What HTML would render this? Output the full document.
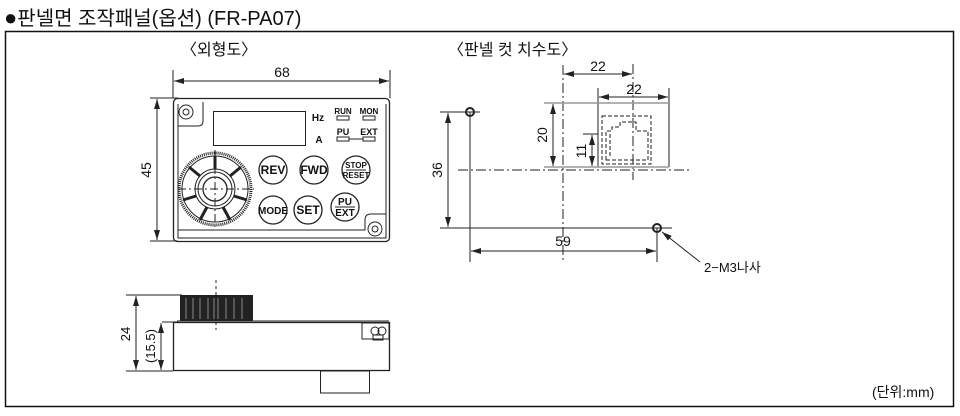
<!DOCTYPE html>
<html><head><meta charset="utf-8"><style>
html,body{margin:0;padding:0;background:#fff;}
svg{display:block;}
text{font-family:"Liberation Sans","Noto Sans CJK KR",sans-serif;fill:#111;}
</style></head><body>
<svg width="960" height="416" viewBox="0 0 960 416" xmlns="http://www.w3.org/2000/svg">
<defs>
<marker id="a" viewBox="0 0 10 6" refX="10" refY="3" markerWidth="10" markerHeight="6" orient="auto-start-reverse" markerUnits="userSpaceOnUse"><path d="M0,0L10,3L0,6z" fill="#222"/></marker>
</defs>
<text x="4" y="25" font-size="20"><tspan font-size="22">●</tspan>판넬면 조작패널(옵션) (FR-PA07)</text>
<rect x="5.5" y="31.5" width="948" height="375" fill="none" stroke="#111" stroke-width="1.5"/>
<text x="181" y="55" font-size="16">〈외형도〉</text>
<text x="448" y="55" font-size="16">〈판넬 컷 치수도〉</text>

<g stroke="#222" fill="none" stroke-width="1">
<line x1="173" y1="70" x2="173" y2="98"/><line x1="390" y1="70" x2="390" y2="98"/>
<line x1="174" y1="81" x2="389" y2="81" marker-start="url(#a)" marker-end="url(#a)"/>
<line x1="150" y1="98" x2="178" y2="98"/><line x1="150" y1="241" x2="178" y2="241"/>
<line x1="157" y1="99" x2="157" y2="240" marker-start="url(#a)" marker-end="url(#a)"/>
<rect x="173.5" y="98.5" width="216" height="143" rx="4" stroke-width="1.3"/>
<path d="M178,126 L198,126 Q203,126 203,121 L203,102 M178,230 L365,230 L365,220 Q365,214 371,214 L386,214 M386,104 L386,238 L178,238 L178,104" stroke-width="1"/>
<circle cx="186" cy="112" r="7"/><circle cx="186" cy="112" r="3"/>
<circle cx="375" cy="229" r="7"/><circle cx="375" cy="229" r="3"/>
<rect x="213.5" y="111.5" width="92" height="34"/>
<circle cx="215" cy="189" r="36" stroke-width="3" stroke-dasharray="1 1"/>
<circle cx="215" cy="189" r="33"/>
<circle cx="215" cy="189" r="20"/><circle cx="215" cy="189" r="17"/>
<circle cx="215" cy="189" r="12" stroke-width="1.3"/>
<g stroke-width="3">
<line x1="215" y1="169" x2="215" y2="156"/>
<line x1="230" y1="176" x2="241" y2="167"/><line x1="200" y1="176" x2="189" y2="167"/>
<line x1="234" y1="196" x2="247" y2="200"/><line x1="196" y1="196" x2="183" y2="200"/>
<line x1="223" y1="207" x2="230" y2="220"/><line x1="207" y1="207" x2="200" y2="220"/>
</g>
<line x1="178" y1="189" x2="254" y2="189" stroke-dasharray="8 3 2 3"/>
<line x1="215" y1="150" x2="215" y2="228" stroke-dasharray="8 3 2 3"/>
<circle cx="273" cy="170" r="14" stroke-width="1.3"/><circle cx="314" cy="170" r="14" stroke-width="1.3"/><circle cx="356" cy="170" r="14" stroke-width="1.3"/>
<circle cx="273" cy="210" r="14" stroke-width="1.3"/><circle cx="308" cy="210" r="14" stroke-width="1.3"/><circle cx="345" cy="207" r="14" stroke-width="1.3"/>
<line x1="346" y1="170" x2="366" y2="170"/><line x1="335" y1="207" x2="355" y2="207"/>
<rect x="337" y="116" width="12" height="4"/><rect x="363" y="116" width="12" height="4"/>
<rect x="337" y="137" width="12" height="4"/><rect x="363" y="137" width="12" height="4"/>
<line x1="349" y1="139" x2="363" y2="139"/>
</g>
<g font-weight="bold" text-anchor="middle" font-size="12">
<text x="318" y="121" font-size="10">Hz</text><text x="319" y="143" font-size="10">A</text>
<text x="343" y="114" font-size="8">RUN</text><text x="369" y="114" font-size="8">MON</text>
<text x="343" y="135" font-size="9">PU</text><text x="369" y="135" font-size="9">EXT</text>
<text x="273" y="174">REV</text><text x="314" y="174">FWD</text>
<text x="356" y="168" font-size="8">STOP</text><text x="356" y="178" font-size="8">RESET</text>
<text x="273" y="214" font-size="10">MODE</text><text x="308" y="214">SET</text>
<text x="345" y="205" font-size="10">PU</text><text x="345" y="216" font-size="10">EXT</text>
</g>
<text x="282" y="77" font-size="14" text-anchor="middle">68</text>
<text x="0" y="0" font-size="14" text-anchor="middle" transform="translate(151,170) rotate(-90)">45</text>

<g stroke="#222" fill="none" stroke-width="1">
<line x1="126" y1="295" x2="182" y2="295"/><line x1="126" y1="371" x2="173" y2="371"/>
<line x1="162" y1="322" x2="178" y2="322"/>
<line x1="136" y1="296" x2="136" y2="370" marker-start="url(#a)" marker-end="url(#a)"/>
<line x1="161" y1="323" x2="161" y2="370" marker-start="url(#a)" marker-end="url(#a)"/>
<rect x="173.5" y="322.5" width="216" height="48" stroke-width="1.3"/>
<line x1="177" y1="321" x2="389" y2="321"/>
<rect x="320.5" y="371" width="49" height="22"/>
<rect x="362" y="323" width="27" height="16"/>
<circle cx="375" cy="331" r="4"/><circle cx="382" cy="331" r="4"/><rect x="373" y="335" width="10" height="5"/>
<line x1="216" y1="280" x2="216" y2="330" stroke-dasharray="3 3"/>
</g>
<rect x="180" y="295" width="73" height="26" fill="#222"/>
<g stroke="#888" stroke-width="1"><line x1="186" y1="298" x2="186" y2="319"/><line x1="193" y1="298" x2="193" y2="319"/><line x1="200" y1="298" x2="200" y2="319"/><line x1="208" y1="298" x2="208" y2="319"/><line x1="214" y1="298" x2="214" y2="319"/><line x1="218" y1="298" x2="218" y2="319"/><line x1="226" y1="298" x2="226" y2="319"/><line x1="234" y1="298" x2="234" y2="319"/><line x1="242" y1="298" x2="242" y2="319"/></g>
<text x="0" y="0" font-size="13" text-anchor="middle" transform="translate(130,334) rotate(-90)">24</text>
<text x="0" y="0" font-size="13" text-anchor="middle" transform="translate(155,346) rotate(-90)">(15.5)</text>

<g stroke="#222" fill="none" stroke-width="1">
<line x1="440" y1="112" x2="480" y2="112"/>
<line x1="440" y1="228" x2="672" y2="228"/>
<line x1="448" y1="113" x2="448" y2="227" marker-start="url(#a)" marker-end="url(#a)"/>
<line x1="470" y1="112" x2="470" y2="262"/><line x1="657" y1="228" x2="657" y2="262"/>
<line x1="471" y1="251" x2="656" y2="251" marker-start="url(#a)" marker-end="url(#a)"/>
<circle cx="470" cy="112" r="4" stroke-width="2"/><circle cx="657" cy="228" r="4" stroke-width="2"/>
<line x1="563" y1="65" x2="563" y2="262" stroke-dasharray="10 3 2 3"/>
<line x1="458" y1="170" x2="690" y2="170" stroke-dasharray="10 3 2 3"/>
<line x1="633" y1="64" x2="633" y2="180" stroke-dasharray="10 3 2 3"/>
<line x1="564" y1="74" x2="632" y2="74" marker-start="url(#a)" marker-end="url(#a)"/>
<line x1="598" y1="88" x2="598" y2="167"/><line x1="669" y1="88" x2="669" y2="167"/>
<line x1="599" y1="97" x2="668" y2="97" marker-start="url(#a)" marker-end="url(#a)"/>
<line x1="544" y1="103" x2="669" y2="103" stroke="#999" stroke-width="1.5"/>
<line x1="544" y1="167" x2="669" y2="167" stroke="#999" stroke-width="1.5"/>
<line x1="553" y1="104" x2="553" y2="166" marker-start="url(#a)" marker-end="url(#a)"/>
<line x1="583" y1="134" x2="598" y2="134"/>
<line x1="592" y1="135" x2="592" y2="166" marker-start="url(#a)" marker-end="url(#a)"/>
<rect x="602" y="116" width="49" height="48" stroke-dasharray="4 2"/>
<path d="M606,160 L648,160 L648,131 L636,131 L636,122 L620,122 L620,127 L612,127 L612,131 L606,131 Z" stroke-dasharray="4 2"/>
<line x1="610" y1="134" x2="610" y2="156" stroke-dasharray="4 2"/>
<line x1="700" y1="262" x2="662" y2="232" marker-end="url(#a)"/>
</g>
<text x="598" y="71" font-size="14" text-anchor="middle">22</text>
<text x="634" y="94" font-size="14" text-anchor="middle">22</text>
<text x="563" y="246" font-size="14" text-anchor="middle">59</text>
<text x="0" y="0" font-size="14" text-anchor="middle" transform="translate(442,170) rotate(-90)">36</text>
<text x="0" y="0" font-size="14" text-anchor="middle" transform="translate(547,135) rotate(-90)">20</text>
<text x="0" y="0" font-size="14" text-anchor="middle" transform="translate(586,151) rotate(-90)">11</text>
<text x="704" y="272" font-size="13">2−M3나사</text>
<text x="872" y="397" font-size="14">(단위:mm)</text>
</svg>
</body></html>
